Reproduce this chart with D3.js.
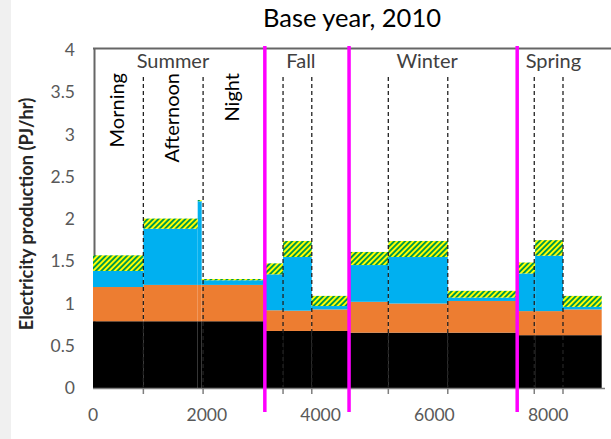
<!DOCTYPE html>
<html><head><meta charset="utf-8">
<script src="https://cdn.jsdelivr.net/npm/d3@7"></script>
<style>
html,body{margin:0;padding:0;background:#fff;}
svg{display:block;font-family:Lato,"Open Sans",sans-serif;}
</style></head><body>
<svg id="chart" width="611" height="439"></svg>
<script>
// Time slices: start hour of each slice, in year order
const sliceStart = [0, 885, 1840, 1910, 3020, 3340, 3845, 4500, 5190, 6235, 7455, 7770, 8260];
const yearEnd = 8940;
const seasons = ["Summer", "Fall", "Winter", "Spring"];
const seasonStart = [0, 3020, 4500, 7455];
const periodLabels = ["Morning", "Afternoon", "Night"];
const periodStart = [0, 885, 1910, 3020];
const periodDividers = [885, 1935, 3340, 3845, 5190, 6235, 7755, 8260];

// Electricity production per layer (PJ/hr), one value per time slice
const baseLoad  = [0.79, 0.79, 0.79, 0.79, 0.675, 0.675, 0.675, 0.655, 0.655, 0.655, 0.625, 0.625, 0.625];
const midLoad   = [0.405, 0.43, 0.43, 0.43, 0.245, 0.24, 0.255, 0.365, 0.345, 0.375, 0.285, 0.285, 0.305];
const peakLoad  = [0.19, 0.665, 0.99, 0.055, 0.425, 0.635, 0.04, 0.435, 0.55, 0.04, 0.445, 0.655, 0.03];
const topLoad   = [0.185, 0.12, 0.015, 0.015, 0.13, 0.19, 0.12, 0.155, 0.19, 0.08, 0.13, 0.185, 0.13];

const yTicks = [0, 0.5, 1, 1.5, 2, 2.5, 3, 3.5, 4];
const xTicks = [0, 2000, 4000, 6000, 8000];
const title = "Base year, 2010";
const yTitle = "Electricity production (PJ/hr)";

const svg = d3.select("#chart");
const x = d3.scaleLinear().domain([0, 8000]).range([93, 548.2]);
const y = d3.scaleLinear().domain([0, 4]).range([388, 50]);

// hatch fill for the top layer
const defs = svg.append("defs");
const pat = defs.append("pattern").attr("id", "hatch")
  .attr("patternUnits", "userSpaceOnUse")
  .attr("width", 3.8).attr("height", 3.8)
  .attr("patternTransform", "rotate(45)");
pat.append("rect").attr("width", 3.8).attr("height", 3.8).attr("fill", "#FFFF00");
pat.append("rect").attr("width", 1.9).attr("height", 3.8).attr("fill", "#009A48");

// left side strip
svg.append("rect").attr("x", 0).attr("y", 0).attr("width", 11).attr("height", 439).attr("fill", "#f0f0f0");

// plot frame (top and left)
svg.append("line").attr("x1", 93).attr("x2", 611).attr("y1", 48.5).attr("y2", 48.5)
  .attr("stroke", "#666").attr("stroke-width", 2);
svg.append("line").attr("x1", 94.5).attr("x2", 94.5).attr("y1", 48).attr("y2", 388)
  .attr("stroke", "#666").attr("stroke-width", 2);

// stacked slices
const rows = sliceStart.map((s, i) => ({
  start: s,
  end: i + 1 < sliceStart.length ? sliceStart[i + 1] : yearEnd,
  base: baseLoad[i], mid: midLoad[i], peak: peakLoad[i], top: topLoad[i]
}));
const keys = ["base", "mid", "peak", "top"];
const fills = {base: "#000000", mid: "#ED7D31", peak: "#00B0F0", top: "url(#hatch)"};
const stacked = d3.stack().keys(keys)(rows);

svg.append("g").selectAll("g").data(stacked).join("g")
  .attr("fill", d => fills[d.key])
  .selectAll("rect").data(d => d).join("rect")
  .attr("x", d => x(d.data.start))
  .attr("width", d => x(d.data.end) - x(d.data.start))
  .attr("y", d => y(d[1]))
  .attr("height", d => y(d[0]) - y(d[1]));

// x axis line and ticks at slice dividers
svg.append("line").attr("x1", 93).attr("x2", 605).attr("y1", 388.5).attr("y2", 388.5)
  .attr("stroke", "#7f7f7f").attr("stroke-width", 1.5);
svg.append("g").selectAll("line").data(periodDividers).join("line")
  .attr("x1", d => x(d)).attr("x2", d => x(d))
  .attr("y1", 388).attr("y2", 394)
  .attr("stroke", "#7f7f7f").attr("stroke-width", 1.5);

// dashed period dividers
svg.append("g").selectAll("line").data(periodDividers).join("line")
  .attr("x1", d => x(d)).attr("x2", d => x(d))
  .attr("y1", 77).attr("y2", 388)
  .attr("stroke", "#222").attr("stroke-width", 1.3)
  .attr("stroke-dasharray", "4,3");

// season boundaries
svg.append("g").selectAll("line").data(seasonStart.slice(1)).join("line")
  .attr("x1", d => x(d)).attr("x2", d => x(d))
  .attr("y1", 46).attr("y2", 412)
  .attr("stroke", "#FF00FF").attr("stroke-width", 3.5);

// tick labels
svg.append("g").selectAll("text").data(yTicks).join("text")
  .attr("x", 75).attr("y", d => y(d)).attr("dy", "0.35em")
  .attr("text-anchor", "end").attr("fill", "#595959").attr("font-size", 17.5)
  .text(d => d);
svg.append("g").selectAll("text").data(xTicks).join("text")
  .attr("x", d => x(d)).attr("y", 421)
  .attr("text-anchor", "middle").attr("fill", "#595959").attr("font-size", 17.5)
  .text(d => d);

// titles
svg.append("text").attr("x", 352).attr("y", 27).attr("text-anchor", "middle")
  .attr("font-size", 25.5).attr("fill", "#000").text(title);
svg.append("text").attr("transform", "translate(27,214) rotate(-90)")
  .attr("dy", "0.35em").attr("text-anchor", "middle")
  .attr("font-size", 18.3).attr("font-weight", "bold").attr("fill", "#262626").text(yTitle);

// season names
const seasonEnd = seasonStart.slice(1).concat([yearEnd]);
svg.append("g").selectAll("text").data(seasons).join("text")
  .attr("x", (d, i) => (x(seasonStart[i]) + x(seasonEnd[i])) / 2 - 6)
  .attr("y", 68).attr("text-anchor", "middle")
  .attr("fill", "#404040").attr("font-size", 20)
  .text(d => d);

// summer period names, written vertically
svg.append("g").selectAll("text").data(periodLabels).join("text")
  .attr("transform", (d, i) => `translate(${(x(periodStart[i]) + x(periodStart[i + 1])) / 2 - 1},73) rotate(-90)`)
  .attr("dy", "0.35em").attr("text-anchor", "end")
  .attr("fill", "#000").attr("font-size", 20)
  .text(d => d);
</script>
</body></html>
